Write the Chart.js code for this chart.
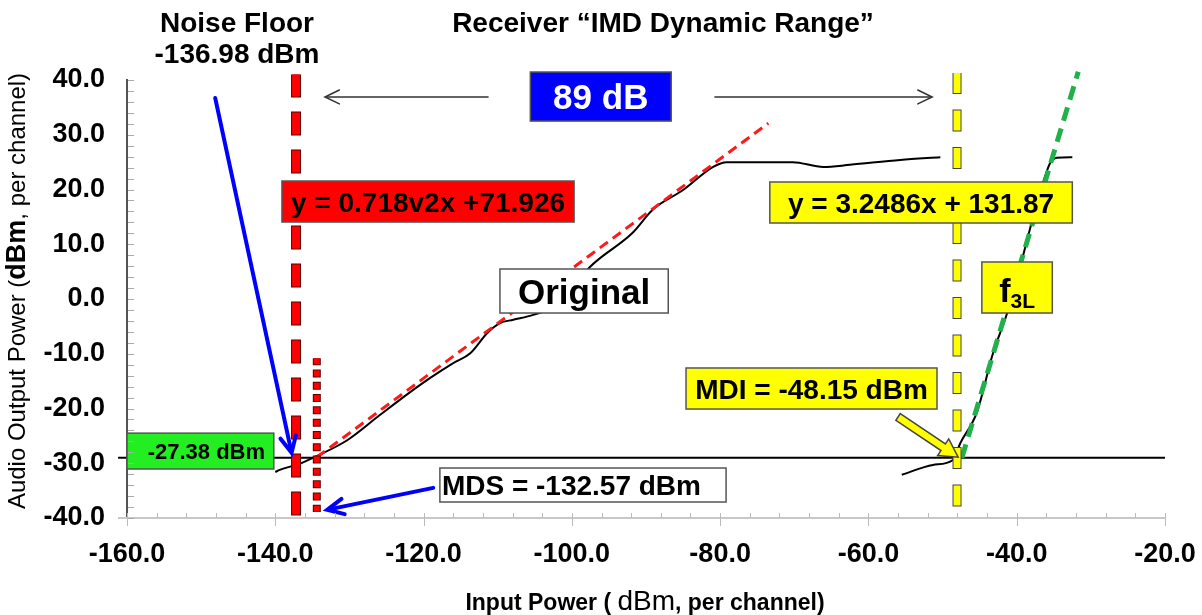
<!DOCTYPE html>
<html>
<head>
<meta charset="utf-8">
<script src="https://cdn.jsdelivr.net/npm/chart.js@4.4.0/dist/chart.umd.min.js"></script>
<style>
  html, body { margin: 0; padding: 0; background: #fff; }
  #wrap { width: 1202px; height: 615px; }
</style>
</head>
<body>
<div id="wrap"><canvas id="c" width="1202" height="615"></canvas></div>
<script>
// values (x = input dBm, y = audio output dBm)
const X_TICKS = [-160, -140, -120, -100, -80, -60, -40, -20];
const Y_TICKS = [-40, -30, -20, -10, 0, 10, 20, 30, 40];

const ORIGINAL_X = [-140.0, -139.4, -136.7, -134.9, -130.3, -125.9, -121.4, -119.1, -116.0, -113.7, -111.4, -109.7, -107.9, -105.2, -101.6, -97.6, -91.8, -89.1, -85.0, -81.0, -79.1, -70.2, -66.1, -62.5, -55.7, -50.3];
const ORIGINAL_Y = [-31.6, -31.2, -30.1, -29.0, -25.8, -21.2, -16.6, -14.4, -11.7, -9.9, -6.2, -4.4, -3.8, -2.9, -0.8, 5.8, 12.1, 16.3, 19.9, 24.1, 25.0, 25.0, 24.1, 24.5, 25.4, 25.9];

const IMD_X = [-55.5, -51.3, -48.6, -47.6, -45.4, -43.2, -41.3, -39.3, -37.9, -36.2, -35.5, -34.6, -32.5];
const IMD_Y = [-32.1, -30.3, -29.4, -26.3, -20.8, -9.9, -2.6, 7.1, 14.4, 22.3, 24.8, 25.8, 25.9];

const FIT1_X = [-134.4, -73.5];
const FIT1_Y = [-28.9, 32.1];
const FIT3_X = [-47.4, -31.7];
const FIT3_Y = [-29.0, 41.5];

const FLOOR_X = [-161.2, -20];
const FLOOR_Y = -29.0;

const NOISE_X = -137.2, NOISE_Y = [41.0, -40.7];
const MDS_X = -134.4, MDS_Y = [-10.8, -38.9];
const MDI_X = -48.05, MDI_Y = [41.3, -38.9];

const FONT = "'Liberation Sans', Arial, sans-serif";
const f = (size, weight) => `${weight || 'bold'} ${size}px ${FONT}`;

// annotation boxes, corners in data units
const BOXES = [
  { x0: -160, x1: -140.2, y0: -24.5, y1: -31.05, fill: '#22ee22', tx: -149.3, runs: [{ text: '-27.38 dBm', size: 22 }] },
  { x0: -139.1, x1: -99.7, y0: 21.55, y1: 14.06, fill: '#ff0000', runs: [{ text: 'y = 0.718v2x +71.926', size: 28 }] },
  { x0: -105.6, x1: -86.6, y0: 41.46, y1: 32.5, fill: '#0000ff', color: '#fff', runs: [{ text: '89 dB', size: 35 }] },
  { x0: -109.7, x1: -87.0, y0: 5.48, y1: -2.56, fill: '#fff', runs: [{ text: 'Original', size: 35 }] },
  { x0: -117.8, x1: -79.2, y0: -30.87, y1: -37.08, fill: '#fff', left: 2, runs: [{ text: 'MDS = -132.57 dBm', size: 28 }] },
  { x0: -73.3, x1: -32.5, y0: 21.37, y1: 13.88, fill: '#ffff00', runs: [{ text: 'y = 3.2486x + 131.87', size: 28 }] },
  { x0: -44.7, x1: -35.2, y0: 6.76, y1: -2.56, fill: '#ffff00', base: -11, runs: [{ text: 'f', size: 34 }, { text: '3L', size: 21, dy: 6 }] },
  { x0: -84.6, x1: -50.75, y0: -12.6, y1: -20.1, fill: '#ffff00', runs: [{ text: 'MDI = -48.15 dBm', size: 28 }] },
];

// arrows, from -> to in data units
const ARROWS = [
  { from: [-148.1, 36.7], to: [-137.8, -28.1], kind: 'blue' },
  { from: [-118.7, -34.5], to: [-133.0, -38.5], kind: 'blue' },
  { from: [-111.3, 36.9], to: [-133.3, 36.9], kind: 'thin' },
  { from: [-80.7, 36.9], to: [-51.4, 36.9], kind: 'thin' },
  { from: [-56.0, -21.55], to: [-47.9, -28.9], kind: 'block' },
];

function pts(xs, ys) { return xs.map((x, i) => ({ x, y: ys[i] })); }

function line(data, opts) {
  return Object.assign({ data, showLine: true, borderColor: '#000', borderWidth: 2, pointRadius: 0, clip: false, tension: 0 }, opts);
}

// a dashed vertical line with a dark rim, as two stacked datasets
function vline(x, ys, fill, rim, width, dash, gap, order) {
  const data = [{ x, y: ys[0] }, { x, y: ys[1] }];
  return [
    line(data, { borderColor: rim, borderWidth: width + 2, borderDash: [dash + 2, gap - 2], borderDashOffset: 1, order: order + 1 }),
    line(data, { borderColor: fill, borderWidth: width, borderDash: [dash, gap], order }),
  ];
}

const datasets = [
  line(pts(FLOOR_X, FLOOR_X.map(() => FLOOR_Y)), { order: 8 }),
  line(pts(ORIGINAL_X, ORIGINAL_Y), { cubicInterpolationMode: 'monotone', order: 7 }),
  line(pts(IMD_X, IMD_Y), { cubicInterpolationMode: 'monotone', order: 7 }),
  line(pts(FIT1_X, FIT1_Y), { borderColor: '#ff1a1a', borderWidth: 3, borderDash: [10, 6], order: 6 }),
  line(pts(FIT3_X, FIT3_Y), { borderColor: '#22b04a', borderWidth: 5, borderDash: [14, 8], order: 6 }),
  ...vline(NOISE_X, NOISE_Y, '#ff0000', '#5a0000', 8, 22, 16, 0),
  ...vline(MDS_X, MDS_Y, '#ff0000', '#5a0000', 6, 6, 6.3, 2),
  ...vline(MDI_X, MDI_Y, '#ffff00', '#444', 7, 20, 17.5, 4),
];

function drawRuns(ctx, runs, cx, baseline, color, leftX) {
  let total = 0;
  runs.forEach(r => { ctx.font = f(r.size, r.weight); r.w = ctx.measureText(r.text).width; total += r.w; });
  let x = leftX !== undefined ? leftX : cx - total / 2;
  ctx.textAlign = 'left';
  ctx.textBaseline = 'alphabetic';
  ctx.fillStyle = color || '#000';
  runs.forEach(r => { ctx.font = f(r.size, r.weight); ctx.fillText(r.text, x, baseline + (r.dy || 0)); x += r.w; });
}

function arrowHead(ctx, x1, y1, ang, len, spread) {
  ctx.beginPath();
  ctx.moveTo(x1 - len * Math.cos(ang - spread), y1 - len * Math.sin(ang - spread));
  ctx.lineTo(x1, y1);
  ctx.lineTo(x1 - len * Math.cos(ang + spread), y1 - len * Math.sin(ang + spread));
  ctx.stroke();
}

const annotate = {
  id: 'annotate',
  afterDatasetsDraw(chart) {
    const { ctx, scales: { x, y } } = chart;
    ctx.save();

    BOXES.forEach(b => {
      const l = x.getPixelForValue(b.x0), r = x.getPixelForValue(b.x1);
      const t = y.getPixelForValue(b.y0), btm = y.getPixelForValue(b.y1);
      ctx.fillStyle = b.fill;
      ctx.fillRect(l, t, r - l, btm - t);
      ctx.strokeStyle = '#555';
      ctx.lineWidth = 1.5;
      ctx.strokeRect(l, t, r - l, btm - t);
      const cx = b.tx !== undefined ? x.getPixelForValue(b.tx) : (l + r) / 2;
      const base = b.base !== undefined ? btm + b.base : (t + btm) / 2 + b.runs[0].size * 0.36;
      drawRuns(ctx, b.runs, cx, base, b.color, b.left !== undefined ? l + b.left : undefined);
    });

    ARROWS.forEach(a => {
      const x0 = x.getPixelForValue(a.from[0]), y0 = y.getPixelForValue(a.from[1]);
      const x1 = x.getPixelForValue(a.to[0]), y1 = y.getPixelForValue(a.to[1]);
      const ang = Math.atan2(y1 - y0, x1 - x0);
      ctx.lineCap = 'round';
      if (a.kind === 'blue' || a.kind === 'thin') {
        ctx.strokeStyle = a.kind === 'blue' ? '#0000ff' : '#333';
        ctx.lineWidth = a.kind === 'blue' ? 4 : 1.5;
        ctx.beginPath();
        ctx.moveTo(x0, y0);
        ctx.lineTo(x1 - Math.cos(ang) * 2, y1 - Math.sin(ang) * 2);
        ctx.stroke();
        arrowHead(ctx, x1, y1, ang, a.kind === 'blue' ? 18 : 16, 0.45);
      } else {
        const len = Math.hypot(x1 - x0, y1 - y0), hl = 18, sw = 4, hw = 10;
        ctx.translate(x0, y0);
        ctx.rotate(ang);
        ctx.beginPath();
        ctx.moveTo(0, -sw);
        ctx.lineTo(len - hl, -sw);
        ctx.lineTo(len - hl, -hw);
        ctx.lineTo(len, 0);
        ctx.lineTo(len - hl, hw);
        ctx.lineTo(len - hl, sw);
        ctx.lineTo(0, sw);
        ctx.closePath();
        ctx.fillStyle = '#ffff00';
        ctx.fill();
        ctx.strokeStyle = '#444';
        ctx.lineWidth = 1.5;
        ctx.lineJoin = 'miter';
        ctx.stroke();
        ctx.setTransform(1, 0, 0, 1, 0, 0);
      }
    });
    ctx.restore();
  },
  afterDraw(chart) {
    const { ctx, chartArea: ca, scales: { x, y } } = chart;
    ctx.save();
    // minor and major tick marks
    ctx.lineWidth = 1;
    ctx.strokeStyle = '#aaa';
    for (let v = -40; v <= 40; v += 2) {
      const py = Math.round(y.getPixelForValue(v)) + 0.5;
      ctx.beginPath(); ctx.moveTo(ca.left + 1, py); ctx.lineTo(ca.left + 7, py); ctx.stroke();
    }
    ctx.strokeStyle = '#bbb';
    for (let v = -160; v <= -20; v += 4) {
      const px = Math.round(x.getPixelForValue(v)) + 0.5;
      const major = v % 20 === 0;
      ctx.beginPath(); ctx.moveTo(px, ca.bottom - 5); ctx.lineTo(px, major ? ca.bottom + 8 : ca.bottom); ctx.stroke();
    }
    ctx.strokeStyle = '#c8c8c8';
    ctx.lineWidth = 2;
    ctx.beginPath(); ctx.moveTo(ca.left - 9, ca.bottom); ctx.lineTo(ca.left, ca.bottom); ctx.stroke();

    // headings
    drawRuns(ctx, [{ text: 'Noise Floor', size: 28 }], 237, 32);
    drawRuns(ctx, [{ text: '-136.98 dBm', size: 28 }], 237, 63);
    drawRuns(ctx, [{ text: 'Receiver “IMD Dynamic Range”', size: 28 }], 663, 32);

    // axis titles
    drawRuns(ctx, [
      { text: 'Input Power ( ', size: 23 },
      { text: 'dBm', size: 28, weight: 'normal' },
      { text: ', per channel)', size: 23 },
    ], 645, 610);
    ctx.translate(25, (ca.top + ca.bottom) / 2 - 8);
    ctx.rotate(-Math.PI / 2);
    drawRuns(ctx, [
      { text: 'Audio Output Power (', size: 24, weight: 'normal' },
      { text: 'dBm', size: 27 },
      { text: ', per channel)', size: 24, weight: 'normal' },
    ], 0, 0);
    ctx.restore();
  }
};

const tickFont = size => ({ family: FONT, size, weight: 'bold' });

new Chart(document.getElementById('c'), {
  type: 'scatter',
  data: { datasets },
  options: {
    responsive: false,
    animation: false,
    devicePixelRatio: 1,
    layout: { padding: { top: 80, right: 37, left: 0, bottom: 0 } },
    plugins: { legend: { display: false }, tooltip: { enabled: false } },
    scales: {
      x: {
        type: 'linear', min: X_TICKS[0], max: X_TICKS[X_TICKS.length - 1],
        afterBuildTicks: s => { s.ticks = X_TICKS.map(value => ({ value })); },
        ticks: { callback: v => v.toFixed(1), font: tickFont(27), color: '#000', padding: 20, maxRotation: 0, autoSkip: false },
        grid: { display: false, drawTicks: false },
        border: { color: '#c8c8c8', width: 2 },
        afterFit: s => { s.height = 97; s.paddingLeft = 0; s.paddingRight = 0; },
      },
      y: {
        min: Y_TICKS[0], max: Y_TICKS[Y_TICKS.length - 1],
        afterBuildTicks: s => { s.ticks = Y_TICKS.map(value => ({ value })); },
        ticks: { callback: v => v.toFixed(1), font: tickFont(27), color: '#000', padding: 22 },
        grid: { display: false, drawTicks: false },
        border: { color: '#555', width: 2 },
        afterFit: s => { s.width = 127; s.paddingTop = 0; s.paddingBottom = 0; },
      },
    },
  },
  plugins: [annotate],
});
</script>
</body>
</html>
